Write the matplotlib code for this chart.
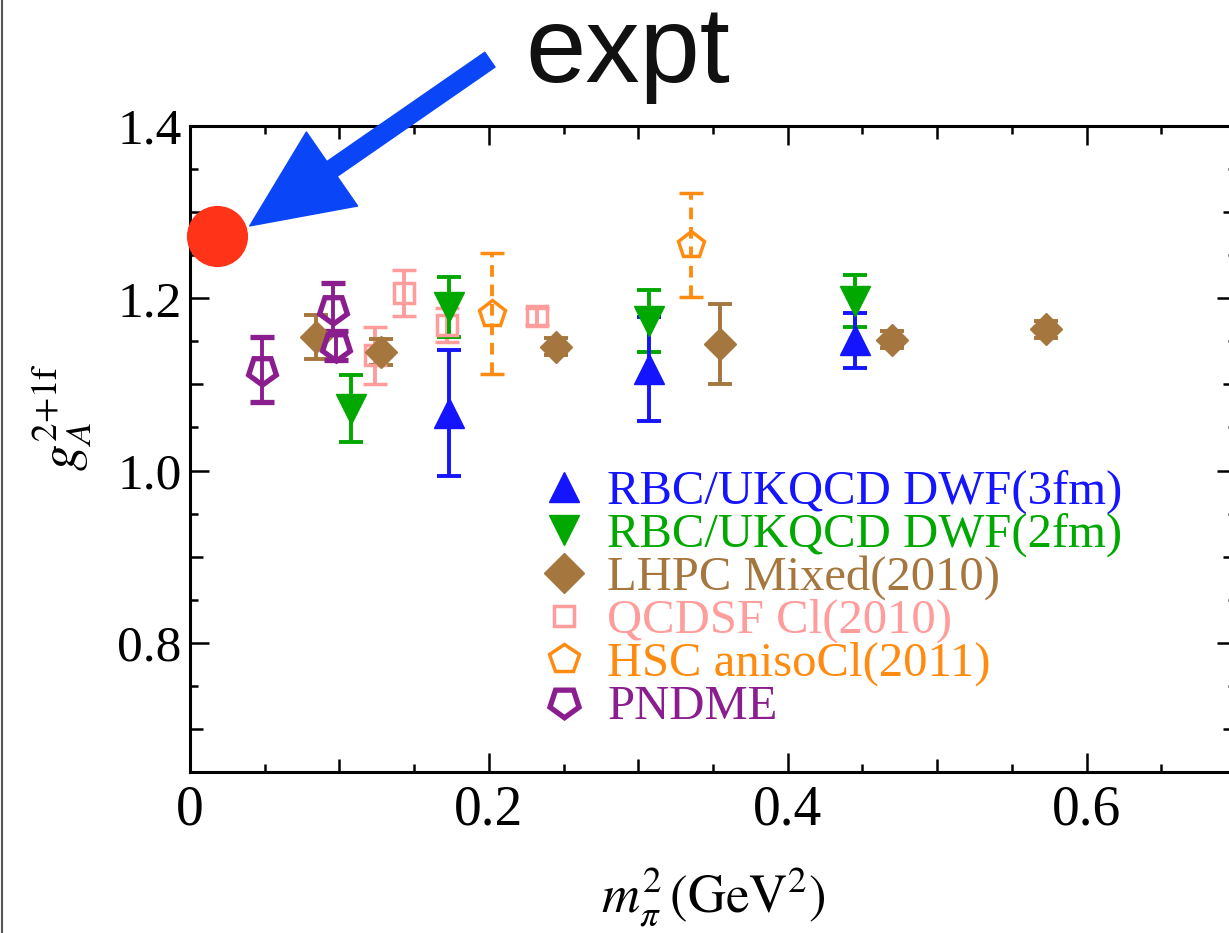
import numpy as np
import matplotlib
matplotlib.use("Agg")
import matplotlib.pyplot as plt
from matplotlib.lines import Line2D

# ---------------- data ----------------
rbc3_x = [0.173, 0.307, 0.445]
rbc3_y = [1.067, 1.118, 1.151]
rbc3_e = [0.073, 0.060, 0.032]

rbc2_x = [0.108, 0.173, 0.307, 0.445]
rbc2_y = [1.072, 1.190, 1.174, 1.197]
rbc2_e = [0.039, 0.035, 0.036, 0.030]

lhpc_x = [0.084, 0.128, 0.245, 0.355, 0.470, 0.573]
lhpc_y = [1.155, 1.138, 1.144, 1.147, 1.152, 1.164]
lhpc_e = [0.025, 0.015, 0.010, 0.046, 0.010, 0.010]

qcdsf_x = [0.124, 0.143, 0.172, 0.232]
qcdsf_y = [1.134, 1.206, 1.169, 1.179]
qcdsf_e = [0.033, 0.027, 0.020, 0.010]

hsc_x = [0.202, 0.335]
hsc_y = [1.182, 1.262]
hsc_e = [0.070, 0.060]

pndme_x = [0.048, 0.096, 0.098]
pndme_y = [1.117, 1.188, 1.145]
pndme_e = [0.038, 0.030, 0.017]

expt_x = [0.0182]
expt_y = [1.2723]

labels = ["RBC/UKQCD DWF(3fm)", "RBC/UKQCD DWF(2fm)", "LHPC Mixed(2010)",
          "QCDSF Cl(2010)", "HSC anisoCl(2011)", "PNDME"]
xticks = [0, 0.2, 0.4, 0.6]
xtick_labels = ["0", "0.2", "0.4", "0.6"]
yticks = [0.8, 1.0, 1.2, 1.4]
ytick_labels = ["0.8", "1.0", "1.2", "1.4"]

# ---------------- style ----------------
plt.rcParams['mathtext.fontset'] = 'stix'
serif = ['Liberation Serif', 'DejaVu Serif']

c_blue = '#1414ff'
c_green = '#00a800'
c_brown = '#a5773f'
c_pink = '#ff9c9c'
c_orange = '#ff8c10'
c_purple = '#8a1e8e'

fig = plt.figure(figsize=(12.29, 9.33), dpi=100)
ax = fig.add_axes([190/1229, 1-772/933, 1046/1229, (772-126)/933])

common = dict(ls='none', capsize=8.5, elinewidth=2.8, capthick=2.8)

ax.errorbar(qcdsf_x, qcdsf_y, yerr=qcdsf_e, marker='s', ms=14, mfc='none',
            mec=c_pink, mew=2.5, color=c_pink, **common)
eb = ax.errorbar(hsc_x, hsc_y, yerr=hsc_e, marker='p', ms=20, mfc='none',
                 mec=c_orange, mew=2.5, color=c_orange, **common)
eb[2][0].set_linestyle((0, (3, 2)))
ax.errorbar(lhpc_x, lhpc_y, yerr=lhpc_e, marker='D', ms=16, mfc=c_brown,
            mec=c_brown, color=c_brown, **common)
ax.errorbar(rbc2_x, rbc2_y, yerr=rbc2_e, marker='v', ms=21, mfc=c_green,
            mec=c_green, color=c_green, **common)
ax.errorbar(rbc3_x, rbc3_y, yerr=rbc3_e, marker='^', ms=21, mfc=c_blue,
            mec=c_blue, color=c_blue, **common)
ax.errorbar(pndme_x, pndme_y, yerr=pndme_e, marker=(5, 0, 180), ms=21, mfc='none',
            mec=c_purple, mew=3.8, color=c_purple, **common)

ax.plot(expt_x, expt_y, 'o', ms=43, color='#ff3318', clip_on=False, zorder=10)

ax.set_xlim(0, 0.7)
ax.set_ylim(0.65, 1.4)

ax.set_xticks(xticks)
ax.set_xticklabels(xtick_labels)
ax.set_yticks(yticks)
ax.set_yticklabels(ytick_labels)
ax.set_xticks(np.arange(0.05, 0.7, 0.05), minor=True)
ax.set_yticks(np.arange(0.7, 1.4, 0.05), minor=True)

for s in ax.spines.values():
    s.set_linewidth(2.2)
ax.tick_params(which='both', direction='in', top=True, right=True, width=1.8)
ax.tick_params(which='major', length=14)
ax.tick_params(which='minor', length=5.5)
ax.tick_params(axis='y', which='major', pad=6)
ax.tick_params(axis='x', which='major', pad=9)
for lab in ax.get_xticklabels():
    lab.set_family(serif); lab.set_fontsize(40)
for lab in ax.get_yticklabels():
    lab.set_family(serif); lab.set_fontsize(37)

# medium ticks at multiples of 0.1
for axis in (ax.xaxis, ax.yaxis):
    locs = axis.get_minorticklocs()
    ticks = axis.get_minor_ticks(len(locs))
    for t, loc in zip(ticks, locs):
        if abs(round(loc * 10) - loc * 10) < 1e-6:
            t.tick1line.set_markersize(9.5)
            t.tick2line.set_markersize(9.5)

ax.set_xlabel(r'$m_\pi^2\,(\mathrm{GeV}^2)$', fontsize=38)
ax.xaxis.set_label_coords(0.5, -0.145)
ax.xaxis.label.set_va('top')
ax.set_ylabel(r'$g_A^{2{+}1\mathrm{f}}$', fontsize=38)
ax.yaxis.set_label_coords(-0.092, 0.55)

# legend
colors = [c_blue, c_green, c_brown, c_pink, c_orange, c_purple]
handles = [
    Line2D([], [], ls='none', marker='^', ms=22, color=c_blue),
    Line2D([], [], ls='none', marker='v', ms=22, color=c_green),
    Line2D([], [], ls='none', marker='D', ms=20, color=c_brown),
    Line2D([], [], ls='none', marker='s', ms=15, mfc='none', mec=c_pink, mew=2.5),
    Line2D([], [], ls='none', marker='p', ms=22, mfc='none', mec=c_orange, mew=2.5),
    Line2D([], [], ls='none', marker=(5, 0, 180), ms=22, mfc='none', mec=c_purple, mew=3.8),
]
leg = ax.legend(handles, labels, loc='upper left', bbox_to_anchor=(0.334, 0.468),
                frameon=False, borderpad=0, borderaxespad=0, handlelength=1.0,
                handletextpad=0.4, labelspacing=-0.03,
                prop={'family': serif, 'size': 35})
for txt, c in zip(leg.get_texts(), colors):
    txt.set_color(c)

# annotation
fig.text(525/1229, 1-82/933, 'expt', fontsize=78,
         family=['Liberation Sans', 'DejaVu Sans'],
         ha='left', va='baseline', color='#111111')
ax.annotate('', xy=(0.040, 1.284), xytext=(0.2007, 1.477), xycoords='data',
            textcoords='data', annotation_clip=False,
            arrowprops=dict(arrowstyle='simple,head_length=2.0,head_width=1.8,tail_width=0.36',
                            mutation_scale=36, color='#0a46f7', shrinkA=0, shrinkB=0),
            zorder=11)

fig.add_artist(Line2D([0.0015, 0.0015], [0, 1], color='#555555', lw=1.5))

fig.savefig('out.png', dpi=100)
